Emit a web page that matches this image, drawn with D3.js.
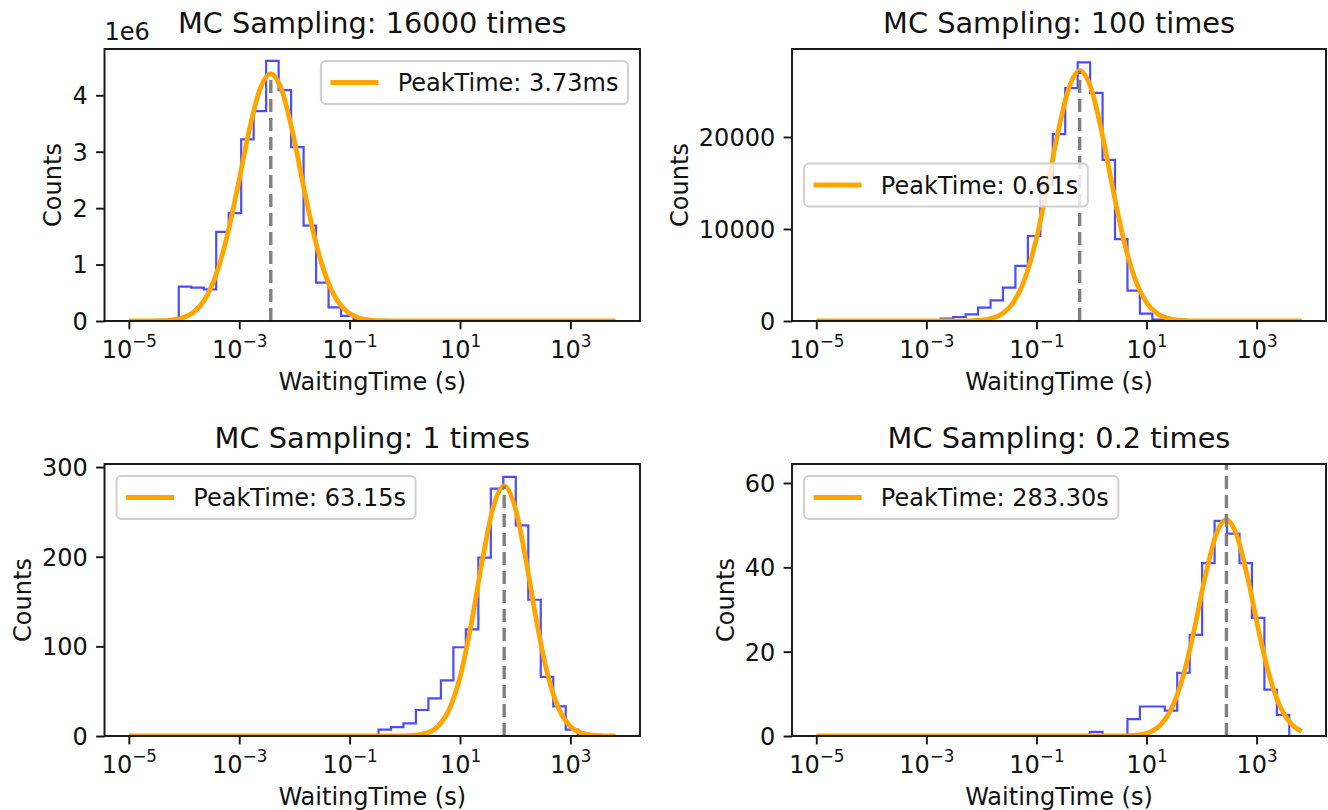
<!DOCTYPE html>
<html>
<head>
<meta charset="utf-8">
<script src="https://cdn.jsdelivr.net/npm/d3@7"></script>
<style>
  body { margin: 0; background: #fff; }
  svg text { font-family: "DejaVu Sans", sans-serif; fill: #111; }
</style>
</head>
<body>
<div id="chart"></div>
<script>
// ---- data ----
const titles = ['MC Sampling: 16000 times', 'MC Sampling: 100 times', 'MC Sampling: 1 times', 'MC Sampling: 0.2 times'];
const peakLabels = ['PeakTime: 3.73ms', 'PeakTime: 0.61s', 'PeakTime: 63.15s', 'PeakTime: 283.30s'];
const peakTimes = [0.00373, 0.61, 63.15, 283.30];

// histogram: log-spaced bins between 1e-5 and ~10^3.82 s
const binLogMin = -5;
const binLogMax = 3.82;
const binCount = 39;

const counts16000 = [0, 0, 0, 0, 610000, 590000, 560000, 1580000, 1910000, 3220000, 3720000, 4610000, 4090000,
  3080000, 1690000, 680000, 240000, 90000, 30000, 10000, 0, 0, 0, 0, 0, 0, 0, 0, 0, 0, 0, 0, 0, 0, 0, 0, 0, 0, 0];
const counts100 = [0, 0, 0, 0, 0, 0, 0, 0, 0, 60, 250, 435, 730, 1450, 2250, 3620, 5980, 9240, 14800, 20300, 25300,
  28100, 24800, 17500, 8900, 3300, 800, 150, 30, 0, 0, 0, 0, 0, 0, 0, 0, 0, 0];
const counts1 = [0, 0, 0, 0, 0, 0, 0, 0, 0, 0, 0, 0, 0, 0, 0, 0, 0, 0, 0, 0, 7, 10, 14, 29, 42, 62, 99, 119, 199,
  276, 289, 235, 152, 66, 33, 7, 2, 0, 0];
const counts02 = [0, 0, 0, 0, 0, 0, 0, 0, 0, 0, 0, 0, 0, 0, 0, 0, 0, 0, 0, 0, 0, 0, 1, 0, 0, 4, 7, 7, 6, 15, 24,
  41, 51, 48, 41, 28, 11, 5, 0];

// fitted curves: log10(x) and counts
const fitExp16000 = [-5, -4.63, -4.43, -4.23, -4.03, -3.83, -3.63, -3.43, -3.23, -3.03, -2.83, -2.63, -2.43,
  -2.23, -2.03, -1.83, -1.63, -1.43, -1.23, -1.03, -0.83, -0.63, -0.43, -0.03, 3.82];
const fitVal16000 = [0, 2000, 5000, 17000, 54000, 152000, 370000, 790000, 1460000, 2360000, 3330000, 4090000, 4380000,
  4090000, 3330000, 2360000, 1460000, 790000, 370000, 152000, 54000, 17000, 5000, 0, 0];
const fitExp100 = [-5, -2.61, -2.21, -2.01, -1.81, -1.61, -1.41, -1.21, -1.01, -0.81, -0.61, -0.41, -0.21,
  -0.01, 0.19, 0.39, 0.59, 0.79, 0.99, 1.19, 1.39, 1.59, 1.79, 2.19, 3.82];
const fitVal100 = [0, 0, 22, 85, 286, 830, 2100, 4590, 8700, 14330, 20450, 25320, 27200,
  25320, 20450, 14330, 8700, 4590, 2100, 830, 286, 85, 22, 0, 0];
const fitExp1 = [-5, -0.2, 0.0, 0.2, 0.4, 0.6, 0.8, 1.0, 1.2, 1.4, 1.6, 1.8, 2.0, 2.2, 2.4, 2.6, 2.8, 3.0, 3.2,
  3.4, 3.6, 3.82];
const fitVal1 = [0, 0, 0.18, 0.85, 3.3, 10.7, 29.0, 65.6, 123.6, 194.2, 254.7, 279, 254.7, 194.2, 123.6, 65.6,
  29.0, 10.7, 3.3, 0.85, 0.18, 0.02];
const fitExp02 = [-5, 0.45, 0.65, 0.85, 1.05, 1.25, 1.45, 1.65, 1.85, 2.05, 2.25, 2.45, 2.65, 2.85, 3.05, 3.25,
  3.45, 3.65, 3.82];
const fitVal02 = [0, 0.01, 0.06, 0.25, 0.87, 2.55, 6.39, 13.5, 24.2, 36.8, 47.2, 51.3, 47.2, 36.8, 24.2, 13.5,
  6.39, 2.55, 1.1];

// axis limits, dashed line tops and ticks
const yMaxes = [4820000, 29560, 303.4, 64.5];
const dashTops = [4380000, 27200, 279, 64.5];
const yTicks = [[0, 1e6, 2e6, 3e6, 4e6], [0, 10000, 20000], [0, 100, 200, 300], [0, 20, 40, 60]];
const yTickLabels = [['0', '1', '2', '3', '4'], ['0', '10000', '20000'], ['0', '100', '200', '300'], ['0', '20', '40', '60']];
const xTicks = [1e-5, 1e-3, 1e-1, 1e1, 1e3];
const xTickExps = ['\u22125', '\u22123', '\u22121', '1', '3'];
const legendLocs = ['upper right', 'center left', 'upper left', 'upper left'];

// ---- layout ----
const W = 1328, H = 810;
const fs = 24;
const boxes = [[104.5, 49, 640, 321], [792, 49, 1326, 321], [104.5, 464, 640, 736], [792, 464, 1326, 736]];

const allCounts = [counts16000, counts100, counts1, counts02];
const allFitExp = [fitExp16000, fitExp100, fitExp1, fitExp02];
const allFitVal = [fitVal16000, fitVal100, fitVal1, fitVal02];

const svg = d3.select('#chart')
  .append('svg')
  .attr('width', W)
  .attr('height', H);

const binEdges = d3.range(binCount + 1).map(i => Math.pow(10, binLogMin + i * (binLogMax - binLogMin) / binCount));
const pad = 0.05 * (binLogMax - binLogMin);
const xDomain = [Math.pow(10, binLogMin - pad), Math.pow(10, binLogMax + pad)];

boxes.forEach((box, k) => {
  const [x0, y0, x1, y1] = box;
  const x = d3.scaleLog().domain(xDomain).range([x0, x1]);
  const y = d3.scaleLinear().domain([0, yMaxes[k]]).range([y1, y0]);
  const g = svg.append('g');

  g.append('clipPath').attr('id', 'clip' + k)
    .append('rect')
    .attr('x', x0).attr('y', y0).attr('width', x1 - x0).attr('height', y1 - y0);
  const plot = g.append('g').attr('clip-path', `url(#clip${k})`);

  // step histogram
  const counts = allCounts[k];
  const pts = [[binEdges[0], 0]];
  counts.forEach((c, i) => { pts.push([binEdges[i], c], [binEdges[i + 1], c]); });
  pts.push([binEdges[binCount], 0]);
  plot.append('path')
    .datum(pts)
    .attr('d', d3.line().x(d => x(d[0])).y(d => y(d[1])))
    .attr('fill', 'none')
    .attr('stroke', 'blue')
    .attr('stroke-opacity', 0.7)
    .attr('stroke-width', 2.2)
    .attr('stroke-linejoin', 'miter');

  // fitted curve
  const fit = allFitExp[k].map((e, i) => [Math.pow(10, e), allFitVal[k][i]]);
  plot.append('path')
    .datum(fit)
    .attr('d', d3.line().x(d => x(d[0])).y(d => y(d[1])).curve(d3.curveMonotoneX))
    .attr('fill', 'none')
    .attr('stroke', '#FFA500')
    .attr('stroke-width', 4.8)
    .attr('stroke-linecap', 'butt');

  // peak marker
  plot.append('line')
    .attr('x1', x(peakTimes[k])).attr('x2', x(peakTimes[k]))
    .attr('y1', y(0)).attr('y2', y(dashTops[k]))
    .attr('stroke', 'gray')
    .attr('stroke-width', 3.4)
    .attr('stroke-dasharray', '13,6');

  // axes
  const xAxis = g.append('g')
    .attr('transform', `translate(0,${y1})`)
    .call(d3.axisBottom(x).tickValues(xTicks).tickSize(8.4).tickSizeOuter(0).tickFormat(''));
  xAxis.select('.domain').remove();
  xAxis.selectAll('.tick line').attr('stroke', '#111').attr('stroke-width', 1.9);
  xAxis.selectAll('.tick').each(function (d, i) {
    const t = d3.select(this).select('text')
      .attr('y', 37).attr('dy', null)
      .attr('font-size', fs)
      .attr('text-anchor', 'middle');
    t.text(null);
    t.append('tspan').text('10');
    t.append('tspan').attr('font-size', fs * 0.7).attr('dy', -11).text(xTickExps[i]);
  });

  const yAxis = g.append('g')
    .attr('transform', `translate(${x0},0)`)
    .call(d3.axisLeft(y).tickValues(yTicks[k]).tickSize(8.4).tickPadding(8.4)
      .tickFormat((d, i) => yTickLabels[k][i]));
  yAxis.select('.domain').remove();
  yAxis.selectAll('.tick line').attr('stroke', '#111').attr('stroke-width', 1.9);
  yAxis.selectAll('.tick text').attr('font-size', fs).attr('font-family', null).attr('fill', null).attr('dy', '0.35em');
  xAxis.selectAll('text').attr('font-family', null).attr('fill', null);
  xAxis.attr('font-family', null);
  yAxis.attr('font-family', null);

  // frame
  g.append('rect')
    .attr('x', x0).attr('y', y0).attr('width', x1 - x0).attr('height', y1 - y0)
    .attr('fill', 'none').attr('stroke', '#111').attr('stroke-width', 1.9);

  // labels
  g.append('text')
    .attr('x', (x0 + x1) / 2).attr('y', y0 - 16)
    .attr('text-anchor', 'middle').attr('font-size', fs * 1.2)
    .text(titles[k]);
  g.append('text')
    .attr('x', (x0 + x1) / 2).attr('y', y1 + 69)
    .attr('text-anchor', 'middle').attr('font-size', fs)
    .text('WaitingTime (s)');

  let minX = x0;
  yAxis.selectAll('.tick text').each(function () {
    const b = this.getBBox();
    minX = Math.min(minX, x0 + b.x);
  });
  const cy = (y0 + y1) / 2;
  const lx = minX - 11;
  g.append('text')
    .attr('transform', `translate(${lx},${cy}) rotate(-90)`)
    .attr('text-anchor', 'middle').attr('font-size', fs)
    .text('Counts');

  if (k === 0) {
    g.append('text')
      .attr('x', x0).attr('y', y0 - 9)
      .attr('font-size', fs)
      .text('1e6');
  }

  // legend
  const lg = g.append('g');
  const frame = lg.append('rect');
  const txt = lg.append('text').attr('font-size', fs).text(peakLabels[k]);
  const tw = txt.node().getComputedTextLength();
  const bw = 9.6 + 48 + 19.2 + tw + 9.6;
  const bh = 43;
  let bx, by;
  if (legendLocs[k] === 'upper right') { bx = x1 - 12 - bw; by = y0 + 12; }
  else if (legendLocs[k] === 'center left') { bx = x0 + 12; by = cy - bh / 2; }
  else { bx = x0 + 12; by = y0 + 12; }
  frame.attr('x', bx).attr('y', by).attr('width', bw).attr('height', bh)
    .attr('rx', 5).attr('fill', '#fff').attr('fill-opacity', 0.8)
    .attr('stroke', '#d0d0d0').attr('stroke-width', 2);
  lg.append('line')
    .attr('x1', bx + 9.6).attr('x2', bx + 9.6 + 48)
    .attr('y1', by + bh / 2).attr('y2', by + bh / 2)
    .attr('stroke', '#FFA500').attr('stroke-width', 4.8);
  txt.attr('x', bx + 9.6 + 48 + 19.2).attr('y', by + bh / 2 + 8.5);
});
</script>
</body>
</html>
